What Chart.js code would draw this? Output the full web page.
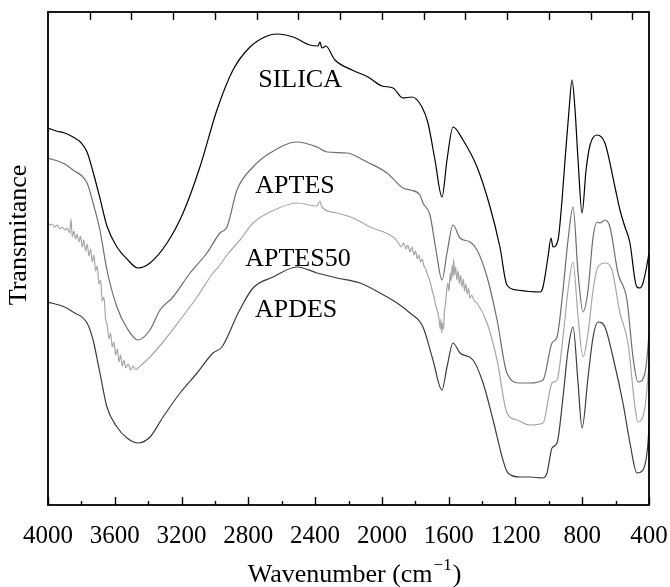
<!DOCTYPE html>
<html><head><meta charset="utf-8">
<script src="https://cdn.jsdelivr.net/npm/chart.js@4/dist/chart.umd.min.js"></script>
<style>html,body{margin:0;padding:0;background:#fff}canvas{display:block}</style>
</head><body>
<canvas id="c" width="670" height="587"></canvas>
<script>
// ---- data (wavenumber in cm-1, transmittance in arbitrary units) ----
const xTickLabels = [4000,3600,3200,2800,2400,2000,1600,1200,800,400];
const minorTicks = [3800,3400,3000,2600,2200,1800,1400,1000,600];
const topTicks = [3750,3500,3250,3000,2750,2500,2250,2000,1750,1500,1250,1000,750,500];

const silicaWn = [4000,3950,3900,3850,3800,3766,3730,3689,3647,3587,3527,3461,3389,3287,3191,3090,2988,2892,2790,2688,2628,2532,2431,2383,2371,2359,2335,2293,2281,2179,2083,1999,1933,1874,1820,1760,1724,1682,1640,1610,1574,1514,1430,1352,1293,1251,1191,1053,1035,1005,987,975,945,921,903,879,861,843,825,801,777,753,711,664,604,574,544,514,484,472,454,436,418,400];
const silicaT  = [377,374,372,368,362,353,333,307,279,258,246,237,242,262,292,338,395,435,458,469,471,468,460,459,463,457,459,448,445,435,428,419,417,407,408,398,382,345,308,345,378,365,338,298,258,220,215,213,218,248,267,258,265,305,345,395,425,395,345,292,335,360,370,362,318,295,278,262,225,218,217,222,235,252];

const aptesWn = [4000,3900,3850,3766,3730,3689,3647,3587,3527,3461,3389,3329,3251,3149,3048,2970,2928,2868,2772,2670,2508,2389,2329,2209,2089,1969,1874,1832,1772,1754,1712,1676,1640,1610,1574,1532,1472,1430,1370,1310,1251,1173,1113,1035,981,951,915,885,855,825,795,765,735,711,694,664,634,586,532,496,466,424,406,400];
const aptesT  = [347,341,335,322,302,275,235,198,177,165,175,195,208,232,252,272,278,315,338,352,363,358,353,352,343,332,317,315,310,302,290,255,225,252,280,267,263,255,228,185,132,122,122,125,162,168,215,265,298,232,193,215,268,283,282,285,278,232,205,148,123,132,158,172];

const aptes50Wn = [4000,3990,3975,3960,3945,3930,3915,3900,3885,3870,3862,3855,3845,3835,3825,3815,3805,3795,3785,3775,3765,3755,3745,3735,3725,3715,3705,3695,3685,3675,3665,3655,3645,3635,3625,3615,3605,3595,3585,3575,3565,3555,3545,3535,3520,3505,3490,3475,3461,3389,3311,3209,3107,3012,2970,2928,2850,2772,2670,2508,2389,2371,2359,2269,2173,2071,1933,1900,1885,1870,1855,1845,1832,1820,1808,1798,1788,1778,1768,1758,1748,1738,1728,1718,1708,1698,1688,1678,1668,1658,1650,1646,1641,1636,1631,1625,1619,1612,1605,1598,1591,1585,1579,1574,1570,1565,1558,1551,1543,1536,1528,1520,1512,1505,1497,1489,1481,1473,1462,1450,1430,1370,1310,1251,1191,1113,1035,981,951,915,885,855,825,795,765,735,706,664,622,574,526,484,466,424,406,400];
const aptes50T  = [282,280,281,278,280,276,278,275,277,272,286,268,274,266,271,263,269,258,265,254,261,249,256,243,250,234,239,221,225,204,208,186,180,166,172,158,163,150,156,143,150,139,145,137,141,135,139,135,137,148,163,185,208,232,240,250,265,282,293,302,299,304,298,292,287,278,268,262,258,262,256,260,253,258,250,254,246,250,243,246,239,236,231,227,221,214,208,200,194,186,176,186,172,182,176,194,201,214,222,214,232,224,240,228,246,230,238,225,234,221,230,218,226,214,221,211,217,207,210,205,202,182,145,92,85,80,82,122,125,168,215,243,188,148,172,215,238,242,235,192,162,98,83,98,128,140];

const apdesWn = [4000,3900,3850,3766,3730,3689,3647,3587,3527,3461,3389,3311,3209,3107,3012,2958,2858,2772,2652,2508,2389,2269,2131,2011,1909,1832,1754,1694,1640,1610,1574,1532,1454,1394,1334,1275,1245,1173,1113,1035,1011,981,951,915,885,855,825,801,765,735,706,664,616,556,514,472,436,406,400];
const apdesT  = [203,198,193,182,165,132,98,78,67,62,68,88,112,132,152,158,193,217,228,238,232,227,222,212,202,192,178,145,115,138,162,152,145,122,85,45,32,28,28,27,32,57,62,108,155,178,122,77,128,168,183,178,148,102,62,32,35,62,80];

const seriesNames = ['SILICA','APTES','APTES50','APDES'];
const labelWn = [2490,2520,2503,2514];
const labelT  = [418,312,239,188];

// ---- build ----
const toPts = (w,t) => w.map((v,i)=>({x:v,y:t[i]}));
const colors = ['#000000','#6e6e6e','#a6a6a6','#3c3c3c'];
const sets = [[silicaWn,silicaT],[aptesWn,aptesT],[aptes50Wn,aptes50T],[apdesWn,apdesT]];
const SERIF = '"Liberation Serif","Times New Roman",serif';

const decor = {
  id:'decor',
  afterDatasetsDraw(chart){
    const {ctx, chartArea:a, scales:{x,y}} = chart;
    ctx.save();
    ctx.strokeStyle='#000';
    ctx.lineWidth=1.4;
    ctx.beginPath();
    xTickLabels.forEach(v=>{const p=Math.round(x.getPixelForValue(v))+0.5;ctx.moveTo(p,a.bottom);ctx.lineTo(p,a.bottom-8);});
    minorTicks.forEach(v=>{const p=Math.round(x.getPixelForValue(v))+0.5;ctx.moveTo(p,a.bottom);ctx.lineTo(p,a.bottom-4);});
    topTicks.forEach(v=>{const p=Math.round(x.getPixelForValue(v))+0.5;ctx.moveTo(p,a.top);ctx.lineTo(p,a.top+8);});
    ctx.stroke();
    ctx.lineWidth=1.8;
    ctx.strokeRect(a.left, a.top, a.right-a.left, a.bottom-a.top);
    ctx.fillStyle='#000';
    ctx.font='26px '+SERIF;
    ctx.textAlign='center';
    ctx.textBaseline='alphabetic';
    seriesNames.forEach((n,i)=>ctx.fillText(n, x.getPixelForValue(labelWn[i]), y.getPixelForValue(labelT[i])));
    // x title with superscript
    const t1='Wavenumber (cm', sup='\u22121', t2=')';
    ctx.font='26px '+SERIF; const w1=ctx.measureText(t1).width, w3=ctx.measureText(t2).width;
    ctx.font='17px '+SERIF; const w2=ctx.measureText(sup).width;
    let sx = (a.left+a.right)/2 + 5 - (w1+w2+w3)/2;
    ctx.textAlign='left';
    ctx.font='26px '+SERIF; ctx.fillText(t1, sx, 582);
    ctx.font='17px '+SERIF; ctx.fillText(sup, sx+w1+1, 570);
    ctx.font='26px '+SERIF; ctx.fillText(t2, sx+w1+w2+2, 582);
    // y title
    ctx.translate(26, 235); ctx.rotate(-Math.PI/2);
    ctx.textAlign='center';
    ctx.fillText('Transmitance', 0, 0);
    ctx.restore();
  }
};

new Chart(document.getElementById('c'), {
  type:'line',
  data:{datasets: sets.map((s,i)=>({label:seriesNames[i], data:toPts(s[0],s[1]), borderColor:colors[i], borderWidth:1.2, pointRadius:0, cubicInterpolationMode:'monotone', fill:false}))},
  options:{
    responsive:false, animation:false, devicePixelRatio:1,
    layout:{padding:{left:48,right:21,top:12,bottom:0}},
    plugins:{legend:{display:false}, tooltip:{enabled:false}},
    scales:{
      x:{type:'linear', reverse:true, min:400, max:4000,
         afterBuildTicks:(s)=>{s.ticks = xTickLabels.map(v=>({value:v}));},
         afterFit:(s)=>{s.height=82; s.paddingLeft=0; s.paddingRight=0;},
         grid:{display:false, drawTicks:false}, border:{display:false},
         ticks:{color:'#000', font:{family:SERIF,size:25}, padding:16, maxRotation:0, autoSkip:false,
                callback:(v)=>String(v)}},
      y:{type:'linear', min:0, max:493, display:false}
    }
  },
  plugins:[decor]
});
</script>
</body></html>
